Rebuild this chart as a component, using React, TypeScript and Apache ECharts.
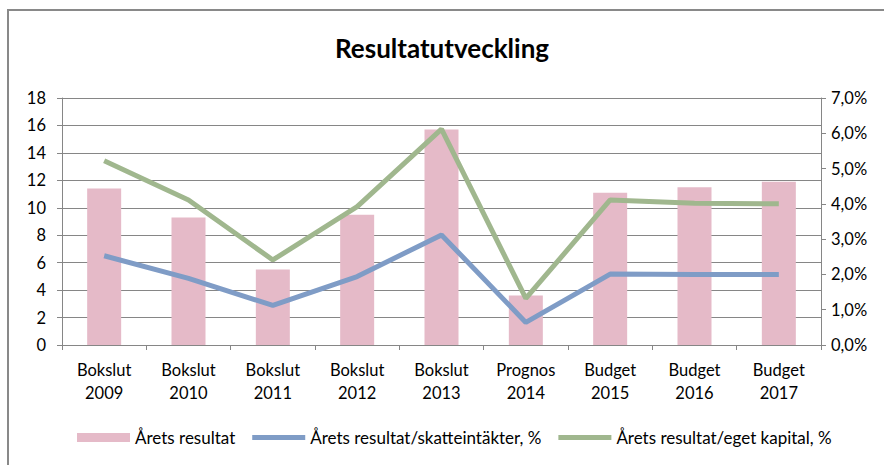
import React, { useEffect, useRef } from "react";
import * as echarts from "echarts";

const labelTypes = ["Bokslut", "Bokslut", "Bokslut", "Bokslut", "Bokslut", "Prognos", "Budget", "Budget", "Budget"];
const years = ["2009", "2010", "2011", "2012", "2013", "2014", "2015", "2016", "2017"];
const aretsResultat = [11.4, 9.3, 5.5, 9.5, 15.7, 3.6, 11.1, 11.5, 11.9];
const skatteintakter = [2.53, 1.89, 1.12, 1.94, 3.12, 0.64, 2.01, 2.0, 2.0];
const egetKapital = [5.22, 4.11, 2.41, 3.92, 6.12, 1.32, 4.11, 4.02, 4.0];
const leftTicks = { min: 0, max: 18, interval: 2 };
const rightTicks = { min: 0, max: 7, interval: 1 };

const FONT = "Lato, 'Open Sans', sans-serif";

export default function App() {
  const ref = useRef<HTMLDivElement>(null);
  useEffect(() => {
    if (!ref.current) return;
    const chart = echarts.init(ref.current, undefined, { renderer: "svg" });
    const categories = labelTypes.map((t, i) => `${t}\n${years[i]}`);
    const axisGray = "#868686";
    const lineIcon = "path://M0,0h53v5h-53z";
    chart.setOption({
      animation: false,
      textStyle: { fontFamily: FONT, color: "#000" },
      title: {
        text: "Resultatutveckling",
        left: "center",
        top: 30,
        textStyle: { fontFamily: FONT, fontSize: 26, fontWeight: "bold", color: "#000" },
      },
      grid: { left: 62, right: 63, top: 98, bottom: 120, containLabel: false },
      legend: {
        left: 72,
        top: 424,
        itemWidth: 53,
        itemHeight: 9,
        itemGap: 17,
        textStyle: { fontFamily: FONT, fontSize: 17, color: "#000" },
        data: [
          { name: "Årets resultat", icon: "rect" },
          { name: "Årets resultat/skatteintäkter, %", icon: lineIcon },
          { name: "Årets resultat/eget kapital, %", icon: lineIcon },
        ],
      },
      xAxis: {
        type: "category",
        data: categories,
        boundaryGap: true,
        axisLine: { lineStyle: { color: axisGray, width: 1 } },
        axisTick: { show: true, length: 5, lineStyle: { color: axisGray } },
        axisLabel: {
          fontFamily: FONT,
          fontSize: 16.5,
          color: "#000",
          margin: 13,
          lineHeight: 23,
          interval: 0,
        },
      },
      yAxis: [
        {
          type: "value",
          min: leftTicks.min,
          max: leftTicks.max,
          interval: leftTicks.interval,
          axisLine: { show: true, lineStyle: { color: axisGray } },
          axisTick: { show: true, length: 5, lineStyle: { color: axisGray } },
          splitLine: { show: true, lineStyle: { color: axisGray, width: 1 } },
          axisLabel: { fontFamily: FONT, fontSize: 16.5, color: "#000", margin: 16 },
        },
        {
          type: "value",
          position: "right",
          min: rightTicks.min,
          max: rightTicks.max,
          interval: rightTicks.interval,
          axisLine: { show: true, lineStyle: { color: axisGray } },
          axisTick: { show: true, length: 5, lineStyle: { color: axisGray } },
          splitLine: { show: false },
          axisLabel: {
            fontFamily: FONT,
            fontSize: 16.5,
            color: "#000",
            margin: 10,
            formatter: (v: number) => v.toFixed(1).replace(".", ",") + "%",
          },
        },
      ],
      series: [
        {
          name: "Årets resultat",
          type: "bar",
          data: aretsResultat,
          barWidth: 34,
          itemStyle: { color: "#E5BAC8" },
          yAxisIndex: 0,
        },
        {
          name: "Årets resultat/skatteintäkter, %",
          type: "line",
          data: skatteintakter,
          yAxisIndex: 1,
          symbol: "none",
          showSymbol: false,
          lineStyle: { color: "#7F9CC6", width: 5 },
          itemStyle: { color: "#7F9CC6" },
        },
        {
          name: "Årets resultat/eget kapital, %",
          type: "line",
          data: egetKapital,
          yAxisIndex: 1,
          symbol: "none",
          showSymbol: false,
          lineStyle: { color: "#A0B78E", width: 5 },
          itemStyle: { color: "#A0B78E" },
        },
      ],
    });
    return () => chart.dispose();
  }, []);
  return (
    <div style={{ position: "absolute", left: 0, top: 0, width: 884, height: 465, overflow: "hidden", background: "#fff" }}>
      <div
        style={{
          position: "absolute",
          left: 7,
          top: 9,
          width: 1000,
          height: 1000,
          borderLeft: "2px solid #898989",
          borderTop: "2px solid #898989",
        }}
      />
      <div ref={ref} style={{ position: "absolute", left: 0, top: 0, width: 884, height: 465 }} />
    </div>
  );
}
